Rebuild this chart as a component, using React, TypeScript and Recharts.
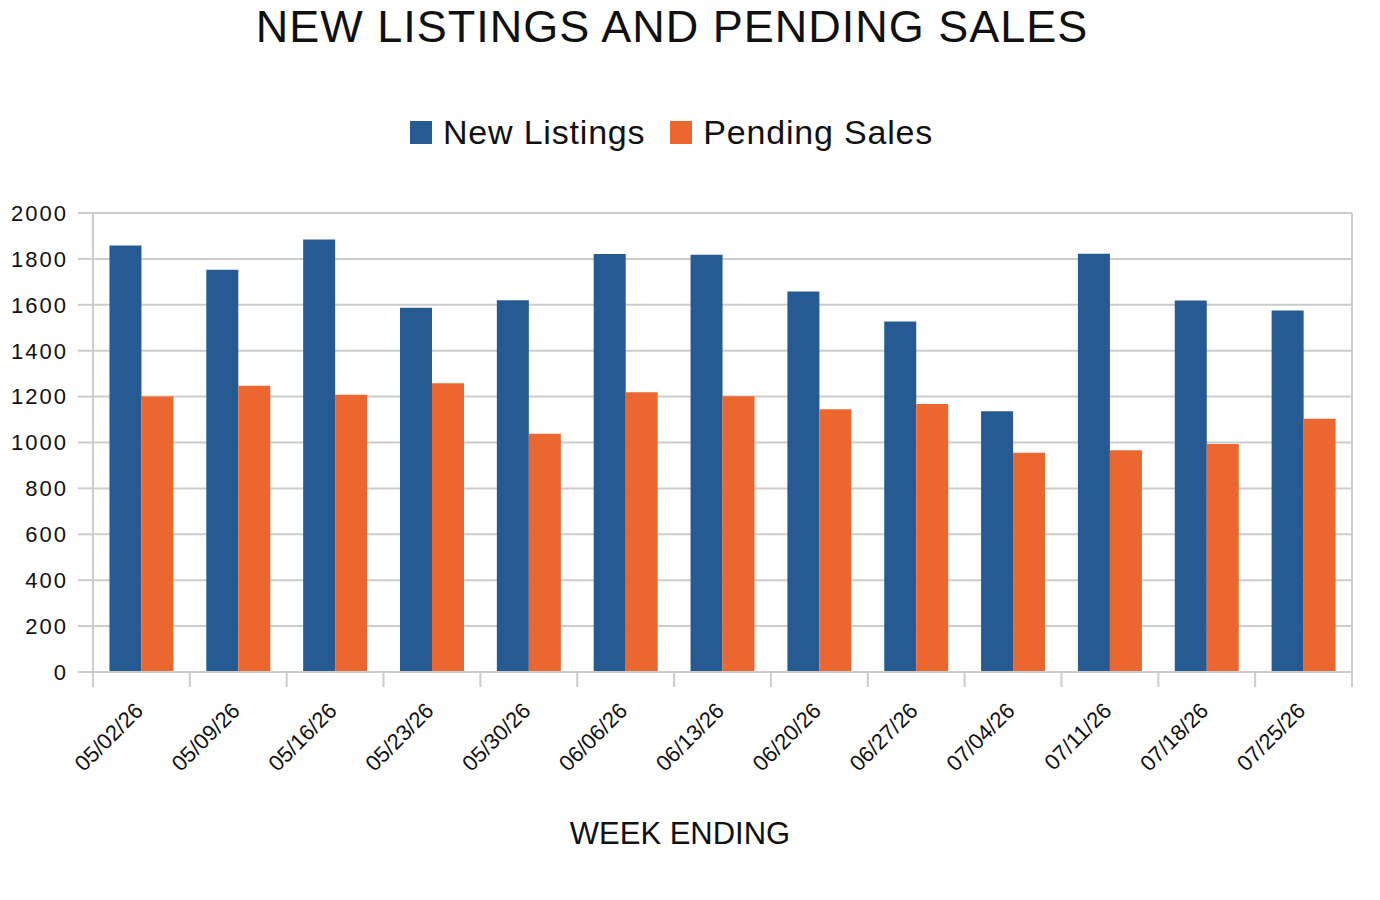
import { BarChart, Bar, CartesianGrid, XAxis, YAxis } from "recharts";

const weeks = [
  "05/02/26", "05/09/26", "05/16/26", "05/23/26", "05/30/26", "06/06/26", "06/13/26",
  "06/20/26", "06/27/26", "07/04/26", "07/11/26", "07/18/26", "07/25/26",
];
const newListings = [1858, 1753, 1884, 1587, 1620, 1821, 1818, 1658, 1527, 1136, 1822, 1619, 1575];
const pendingSales = [1200, 1247, 1208, 1258, 1038, 1219, 1202, 1145, 1168, 955, 966, 993, 1103];
const yTicks = [0, 200, 400, 600, 800, 1000, 1200, 1400, 1600, 1800, 2000];

const BLUE = "#265a93";
const ORANGE = "#ec6730";
const GRID = "#cccccc";
const FONT = "'Liberation Sans', Arial, sans-serif";

const W = 1380;
const H = 900;
const PLOT_LEFT = 93;
const PLOT_RIGHT = 1352;
const BAND = (PLOT_RIGHT - PLOT_LEFT) / weeks.length;

const rows = weeks.map((week, i) => ({
  week,
  newListings: newListings[i],
  pendingSales: pendingSales[i],
}));

// tick marks sit on category boundaries, labels hang off the center
function WeekTick(props: any) {
  const { x, y, payload, index } = props;
  const half = BAND / 2;
  const tx = x + 3;
  const ty = y + 40;
  return (
    <g>
      <line x1={x - half} x2={x - half} y1={y} y2={y + 15} stroke={GRID} strokeWidth={2} />
      {index === weeks.length - 1 && (
        <line x1={x + half} x2={x + half} y1={y} y2={y + 15} stroke={GRID} strokeWidth={2} />
      )}
      <text
        x={tx}
        y={ty}
        textAnchor="end"
        transform={`rotate(-45, ${tx}, ${ty})`}
        fontSize={22}
        fill="#111"
        fontFamily={FONT}
      >
        {payload.value}
      </text>
    </g>
  );
}

export default function App() {
  return (
    <div
      style={{
        position: "absolute",
        left: 0,
        top: 0,
        width: W,
        height: H,
        background: "#fff",
        fontFamily: FONT,
        color: "#111",
      }}
    >
      <div
        style={{
          position: "absolute",
          top: 4,
          left: 0,
          width: 1344,
          textAlign: "center",
          fontSize: 45,
          lineHeight: "45px",
          letterSpacing: 1,
          whiteSpace: "nowrap",
        }}
      >
        NEW LISTINGS AND PENDING SALES
      </div>
      <div
        style={{
          position: "absolute",
          top: 115,
          left: 410,
          display: "flex",
          alignItems: "center",
          fontSize: 34,
          lineHeight: "34px",
          letterSpacing: 0.8,
          whiteSpace: "nowrap",
        }}
      >
        <span style={{ width: 22, height: 23, background: BLUE, marginRight: 11 }} />
        <span style={{ marginRight: 25 }}>New Listings</span>
        <span style={{ width: 22, height: 23, background: ORANGE, marginRight: 11 }} />
        <span>Pending Sales</span>
      </div>
      <div
        style={{
          position: "absolute",
          top: 818,
          left: 480,
          width: 400,
          textAlign: "center",
          fontSize: 31,
          lineHeight: "31px",
          whiteSpace: "nowrap",
        }}
      >
        WEEK ENDING
      </div>
      <BarChart
        width={W}
        height={H}
        data={rows}
        margin={{ top: 213, right: W - PLOT_RIGHT, bottom: 78, left: 0 }}
        barCategoryGap="17%"
        barGap={0}
      >
        <CartesianGrid
          stroke={GRID}
          strokeWidth={2}
          verticalPoints={[PLOT_RIGHT]}
        />
        <XAxis
          dataKey="week"
          height={150}
          interval={0}
          tickLine={false}
          tickSize={0}
          tickMargin={0}
          axisLine={{ stroke: GRID, strokeWidth: 2 }}
          tick={<WeekTick />}
        />
        <YAxis
          width={PLOT_LEFT}
          domain={[0, 2000]}
          ticks={yTicks}
          interval={0}
          tickSize={15}
          tickMargin={10}
          tickLine={{ stroke: GRID, strokeWidth: 2 }}
          axisLine={{ stroke: GRID, strokeWidth: 2 }}
          tick={{ fontSize: 22, fill: "#111", fontFamily: FONT, letterSpacing: 2 }}
        />
        <Bar dataKey="newListings" name="New Listings" fill={BLUE} isAnimationActive={false} />
        <Bar dataKey="pendingSales" name="Pending Sales" fill={ORANGE} isAnimationActive={false} />
      </BarChart>
    </div>
  );
}
